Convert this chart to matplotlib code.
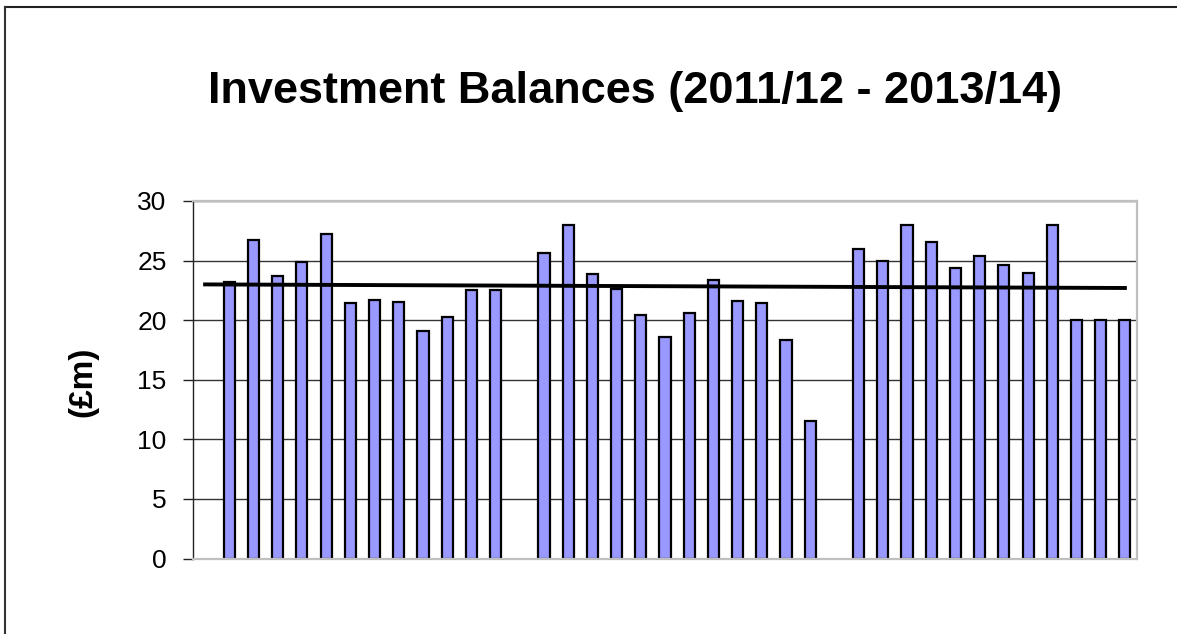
import numpy as np
import matplotlib
matplotlib.use("Agg")
from matplotlib import pyplot as plt
from matplotlib.lines import Line2D

plt.rcParams['font.family'] = ['Liberation Sans', 'DejaVu Sans']

# monthly balances, 3 financial years (blank slot before each year)
year_2011 = [23.2, 26.7, 23.7, 24.9, 27.2, 21.4, 21.7, 21.5, 19.1, 20.3, 22.5, 22.5]
year_2012 = [25.6, 28.0, 23.9, 22.6, 20.4, 18.6, 20.6, 23.4, 21.6, 21.4, 18.3, 11.5]
year_2013 = [26.0, 25.0, 28.0, 26.6, 24.4, 25.4, 24.6, 24.0, 28.0, 20.0, 20.0, 20.0]
# straight average line drawn across the chart (start, end)
avg_line = [23.0, 22.7]
yticks = [0, 5, 10, 15, 20, 25, 30]

values = [np.nan] + year_2011 + [np.nan] + year_2012 + [np.nan] + year_2013
x = np.arange(len(values))

fig = plt.figure(figsize=(11.77, 6.34), dpi=100)
ax = fig.add_axes([193/1177, 1 - 558.5/634, 944/1177, 357.5/634])

ax.bar(x, values, width=0.46, color='#9999ff', edgecolor='black', linewidth=1.6, zorder=2)
ax.plot([x[0], x[-1]], avg_line, color='black', lw=2.8, zorder=3)

ax.set_xlim(-0.5, len(values) - 0.5)
ax.set_ylim(0, 30)
ax.set_yticks(yticks)
ax.set_xticks([])
ax.set_axisbelow(True)
ax.yaxis.grid(True, color='#333333', lw=1.0)
ax.tick_params(axis='y', direction='out', length=7, width=1, pad=12, labelsize=19, color='#222222')

for s in ['top', 'right', 'bottom']:
    ax.spines[s].set_color('#bfbfbf')
    ax.spines[s].set_linewidth(1.6)
ax.spines['left'].set_color('#222222')
ax.spines['left'].set_linewidth(1.0)

fig.text(635/1177, 1 - 91/634, 'Investment Balances (2011/12 - 2013/14)',
         ha='center', va='center', fontsize=32.5, fontweight='bold')
fig.text(83/1177, 1 - 382/634, '(£m)', rotation=90, ha='center', va='center',
         fontsize=24, fontweight='bold')

# outer chart frame (top and left edges visible)
fig.add_artist(Line2D([4.5/1177, 1], [1 - 6.5/634, 1 - 6.5/634], color='#222222', lw=1.5))
fig.add_artist(Line2D([4.5/1177, 4.5/1177], [0, 1 - 6.5/634], color='#333333', lw=1.5))

fig.savefig('out.png', dpi=100)
